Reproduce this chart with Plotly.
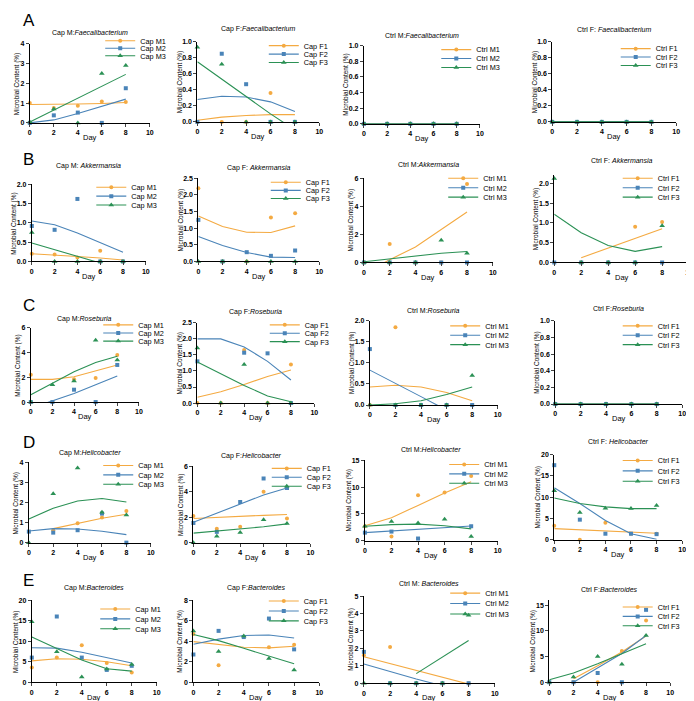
import plotly.graph_objects as go

W, H = 694, 701
DAYS = [0, 2, 4, 6, 8]
GROUPS = ["Cap M", "Cap F", "Ctrl M", "Ctrl F"]
ROW_LETTERS = ["A", "B", "C", "D", "E"]
TITLES = [
    "Cap M:<i>Faecalibacterium</i>", "Cap F:<i>Faecalibacterium</i>", "Ctrl M:<i>Faecalibacterium</i>", "Ctrl F: <i>Faecalibacterium</i>",
    "Cap M: <i>Akkermansia</i>", "Cap F: <i>Akkermansia</i>", "Ctrl M:<i>Akkermansia</i>", "Ctrl F: <i>Akkermansia</i>",
    "Cap M:<i>Roseburia</i>", "Cap F:<i>Roseburia</i>", "Ctrl M:<i>Roseburia</i>", "Ctrl F:<i>Roseburia</i>",
    "Cap M:<i>Helicobacter</i>", "Cap F:<i>Helicobacter</i>", "Ctrl M:<i>Helicobacter</i>", "Ctrl F: <i>Helicobacter</i>",
    "Cap M:<i>Bacteroides</i>", "Cap F:<i>Bacteroides</i>", "Ctrl M: <i>Bacteroides</i>", "Ctrl F:<i>Bacteroides</i>",
]
X_LABEL = "Day"
Y_LABEL = "Microbial Content (%)"

# ---------------- data: points (3 series) and fitted curves (3 series) per panel
A1_pts = [[1.0, 0.75, 0.87, 1.08, 1.05], [0, 0.38, 0.52, 0, 1.75], [0.05, 0.7, 0, 2.5, 2.9]]
A1_fit = [[0.93, 0.93, 0.95, 0.98, 1.03], [0.0, 0.15, 0.47, 0.85, 1.2], [0.05, 0.65, 1.25, 1.85, 2.45]]
A2_pts = [[0, 0, 0, 0.36, 0], [0, 0.85, 0.47, 0, 0], [0.93, 0.72, 0, 0, 0]]
A2_fit = [[0.02, 0.06, 0.08, 0.09, 0.09], [0.28, 0.32, 0.31, 0.25, 0.13], [0.75, 0.53, 0.32, 0.1, -0.1]]
A3_pts = [[0, 0, 0, 0, 0], [0, 0, 0, 0, 0], [0, 0, 0, 0, 0]]
A3_fit = [[0, 0, 0, 0, 0], [0, 0, 0, 0, 0], [0, 0, 0, 0, 0]]
A4_pts = [[0, 0, 0, 0, 0], [0, 0, 0, 0, 0], [0, 0, 0, 0, 0]]
A4_fit = [[0, 0, 0, 0, 0], [0, 0, 0, 0, 0], [0, 0, 0, 0, 0]]

B1_pts = [[0.2, 0.18, 0.1, 0.28, 0], [0.92, 0.82, 1.62, 0, 0], [0.75, 0, 0, 0, 0]]
B1_fit = [[0.2, 0.17, 0.13, 0.09, 0.04], [1.05, 0.95, 0.74, 0.5, 0.24], [0.48, 0.3, 0.12, -0.04, -0.2]]
B2_pts = [[2.2, 0, 0, 1.32, 1.45], [1.25, 0, 0.28, 0.17, 0.33], [0, 0, 0, 0, 0]]
B2_fit = [[1.37, 1.05, 0.88, 0.87, 1.07], [0.75, 0.48, 0.27, 0.13, 0.12], [0, 0, 0, 0, 0]]
B3_pts = [[0, 1.32, 0, 0, 5.6], [0, 0, 0, 0, 0], [0, 0, 0, 1.58, 0.65]]
B3_fit = [[-0.8, 0.2, 1.1, 2.35, 3.6], [0, 0, 0, 0, 0], [0.05, 0.25, 0.48, 0.66, 0.78]]
B4_pts = [[None, 0, 0, 0.9, 1.02], [0, 0, 0, 0, 0], [2.12, 0, 0, 0, 0.93]]
B4_fit = [[None, 0.12, 0.36, 0.6, 0.85], [0, 0, 0, 0, 0], [1.22, 0.75, 0.43, 0.28, 0.4]]

C1_pts = [[2.2, 0, 1.85, 1.95, 3.8], [0, 0, 1.0, 0, 3.0], [0, 1.4, 1.7, 5.0, 3.4]]
C1_fit = [[1.83, 1.83, 2.05, 2.5, 3.0], [-0.5, 0.1, 0.7, 1.4, 2.1], [0.6, 1.5, 2.45, 3.2, 3.7]]
C2_pts = [[0, 0, 1.65, 0, 1.2], [1.3, None, 1.57, 1.55, 0], [1.72, 0, 1.2, 0, 0]]
C2_fit = [[0.18, 0.35, 0.58, 0.83, 1.03], [2.0, 2.0, 1.75, 1.3, 0.72], [1.28, 0.92, 0.55, 0.22, 0.04]]
C3_pts = [[0, 1.85, 0, 0, 0], [1.33, 0, 0, 0, 0], [0, 0, 0, 0, 0.7]]
C3_fit = [[0.43, 0.47, 0.43, 0.3, 0.1], [0.83, 0.52, 0.2, -0.12, -0.45], [0.0, 0.03, 0.1, 0.25, 0.43]]
C4_pts = [[0, 0, 0, 0, 0], [0, 0, 0, 0, 0], [0, 0, 0, 0, 0]]
C4_fit = [[0, 0, 0, 0, 0], [0, 0, 0, 0, 0], [0, 0, 0, 0, 0]]

D1_pts = [[None, 0.62, 0.97, 1.25, 1.58], [0.55, 0.5, 0.62, 1.45, 0], [0, 2.44, 3.72, 1.52, 1.38]]
D1_fit = [[None, 0.7, 0.95, 1.22, 1.42], [0.58, 0.7, 0.68, 0.57, 0.4], [1.18, 1.72, 2.08, 2.2, 2.03]]
D2_pts = [[2.1, 1.1, 1.25, 4.0, 1.9], [1.55, 0.85, 3.2, 5.05, 4.3], [0, 0.5, 0.8, 1.8, 1.5]]
D2_fit = [[1.9, 2.0, 2.07, 2.15, 2.22], [1.6, 2.3, 3.05, 3.75, 4.3], [0.75, 0.9, 1.05, 1.25, 1.48]]
D3_pts = [[2.7, 0.8, 8.5, 9.0, 12.1], [1.5, 1.7, 0.4, None, 2.7], [2.7, 3.6, 3.3, 4.0, 0.8]]
D3_fit = [[2.8, 4.3, 6.6, 8.9, 11.0], [1.5, 1.8, 2.1, 2.45, 2.75], [2.7, 3.0, 3.1, 2.8, 2.2]]
D4_pts = [[3.3, 0, 4.0, 1.4, 1.4], [17.5, 4.7, 1.4, 1.4, 1.3], [11.5, 6.4, 7.4, 7.3, 8.0]]
D4_fit = [[2.6, 2.3, 2.0, 1.7, 1.5], [12.2, 8.5, 4.5, 1.4, 0.1], [9.8, 8.5, 7.7, 7.3, 7.3]]

E1_pts = [[3.6, 6.0, 9.0, 4.7, 2.4], [6.0, 16.0, 6.0, 3.0, 4.0], [14.7, 7.4, 1.3, 3.2, 4.3]]
E1_fit = [[5.2, 5.7, 5.6, 5.0, 4.0], [8.4, 8.3, 7.3, 6.0, 4.7], [11.0, 8.2, 5.4, 3.3, 2.7]]
E2_pts = [[4.7, 1.65, 4.4, 3.4, 3.65], [2.7, 5.0, 4.4, 6.2, 3.2], [5.0, 3.0, 4.5, 2.3, 1.2]]
E2_fit = [[3.95, 3.65, 3.4, 3.35, 3.5], [3.7, 4.2, 4.55, 4.6, 4.3], [4.65, 4.05, 3.3, 2.55, 1.8]]
E3_pts = [[1.6, 2.08, 0, 0, 0], [1.8, 0, 0, 0, 0], [0, 0, 0, 0, 3.9]]
E3_fit = [[1.52, 1.12, 0.72, 0.32, -0.05], [1.1, 0.66, 0.24, -0.15, -0.55], [None, None, 0.55, 1.5, 2.45]]
E4_pts = [[None, 0, 0, 6.1, 12.0], [0, 0, 1.8, 0, 14.1], [0, 1.0, 5.0, 3.5, 9.1]]
E4_fit = [[None, 0.7, 3.2, 5.9, 9.0], [None, 0.0, 2.8, 5.6, 9.1], [0.5, 1.8, 3.6, 5.6, 7.5]]

PANEL_PTS = [A1_pts, A2_pts, A3_pts, A4_pts, B1_pts, B2_pts, B3_pts, B4_pts,
             C1_pts, C2_pts, C3_pts, C4_pts, D1_pts, D2_pts, D3_pts, D4_pts,
             E1_pts, E2_pts, E3_pts, E4_pts]
PANEL_FIT = [A1_fit, A2_fit, A3_fit, A4_fit, B1_fit, B2_fit, B3_fit, B4_fit,
             C1_fit, C2_fit, C3_fit, C4_fit, D1_fit, D2_fit, D3_fit, D4_fit,
             E1_fit, E2_fit, E3_fit, E4_fit]

# y axis: (range max, tick step, format)
Y_AXES = [
    (4, 1, "d"), (1, 0.2, ".1f"), (1, 0.2, ".1f"), (1, 0.2, ".1f"),
    (2, 0.5, ".1f"), (2.5, 0.5, ".1f"), (6, 2, "d"), (2.2, 0.5, ".1f"),
    (6, 2, "d"), (2.5, 0.5, ".1f"), (2, 0.5, ".1f"), (1, 0.2, ".1f"),
    (4, 1, "d"), (6, 2, "d"), (15, 5, "d"), (20, 5, "d"),
    (20, 5, "d"), (8, 2, "d"), (5, 1, "d"), (16, 5, "d"),
]

# ---------------- layout geometry (pixels): left, right, top, bottom of each plot area
RECTS = [
    (20, 141, 32, 112), (189, 312, 30, 111), (357, 474, 34, 113), (547, 672, 30, 111),
    (22, 137, 174, 252), (190, 312, 168, 252), (357, 487, 168, 253), (549, 685, 165, 253),
    (21, 130, 319, 394), (189, 307, 314, 395), (363, 492, 312, 397), (550, 678, 312, 396),
    (19, 142, 455, 536), (185, 303, 459, 536), (358, 492, 453, 534), (549, 678, 447, 533),
    (22, 148, 594, 677), (185, 312, 594, 677), (357, 489, 590, 678), (544, 666, 594, 677),
]
TITLE_Y = [21, 17, 24, 18, 156, 158, 154, 150, 310, 303, 302, 299, 445, 448, 442, 434, 582, 582, 577, 583]
# legend: x of text start, y of first row, row step
LEGENDS = [
    (137, 29, 7.6), (302, 34, 8.5), (476, 38, 9), (657, 37, 8.5),
    (128, 177, 9), (304, 172, 8.2), (483, 168, 9.5), (659, 168, 9.5),
    (135, 316, 8.2), (303, 316, 8.5), (485, 317, 9.5), (659, 317, 9.5),
    (135, 458, 9.5), (305, 461, 9), (484, 457, 9.5), (659, 453, 10.5),
    (132, 603, 10), (302, 595, 10), (485, 587, 10.5), (659, 601, 9.5),
]
LETTER_Y = [9, 149, 296, 435, 574]

COLORS = ["#F4AA42", "#4A84B8", "#2B9155"]
SYMBOLS = ["circle", "square", "triangle-up"]
MSIZE = [4, 4, 5]
FONT = "Liberation Sans, Arial, sans-serif"

fig = go.Figure()
annotations = []
layout = dict(width=W, height=H, margin=dict(l=0, r=0, t=0, b=0),
              paper_bgcolor="white", plot_bgcolor="white",
              font=dict(family=FONT, color="black"))

LEG_DX = 46

for k in range(20):
    r, c = divmod(k, 4)
    L, R, T, B = RECTS[k]
    ymax, dt, fmt = Y_AXES[k]
    sfx = "" if k == 0 else str(k + 1)
    tickfont = dict(size=7, family=FONT, color="black", weight="bold")
    xa = dict(domain=[L / W, R / W], range=[0, 10], anchor="y" + sfx,
              tickvals=[0, 2, 4, 6, 8, 10], ticks="outside", ticklen=3, tickwidth=1,
              showline=True, linecolor="black", linewidth=1, showgrid=False, zeroline=False,
              tickfont=tickfont, fixedrange=True)
    ya = dict(domain=[1 - B / H, 1 - T / H], range=[0, ymax], anchor="x" + sfx,
              tick0=0, dtick=dt, tickformat=fmt, ticks="outside", ticklen=3, tickwidth=1,
              showline=True, linecolor="black", linewidth=1, showgrid=False, zeroline=False,
              tickfont=tickfont, fixedrange=True)
    layout["xaxis" + sfx] = xa
    layout["yaxis" + sfx] = ya

    grp = GROUPS[c]
    tx, ty0, tstep = LEGENDS[k]
    for j in range(3):
        pts = PANEL_PTS[k][j]
        fit = PANEL_FIT[k][j]
        name = f"{grp}{j + 1}"
        valid_fit = [v for v in fit if v is not None]
        fig.add_trace(go.Scatter(
            x=DAYS, y=fit, mode="lines", line=dict(color=COLORS[j], width=1.1),
            showlegend=False, hoverinfo="skip", xaxis="x" + sfx, yaxis="y" + sfx,
            cliponaxis=min(valid_fit) < 0))
        fig.add_trace(go.Scatter(
            x=DAYS, y=pts, mode="markers",
            marker=dict(color=COLORS[j], symbol=SYMBOLS[j], size=MSIZE[j], line=dict(width=0)),
            showlegend=False, cliponaxis=False, xaxis="x" + sfx, yaxis="y" + sfx, name=name))
        n = 3 * k + j + 1
        lname = "legend" if n == 1 else f"legend{n}"
        fig.add_trace(go.Scatter(
            x=[None], y=[None], mode="lines+markers", name=name,
            line=dict(color=COLORS[j], width=1.1),
            marker=dict(color=COLORS[j], symbol=SYMBOLS[j], size=MSIZE[j], line=dict(width=0)),
            showlegend=True, legend=lname, xaxis="x" + sfx, yaxis="y" + sfx))
        layout[lname] = dict(x=(tx - LEG_DX) / W, y=1 - (ty0 + j * tstep) / H,
                             xanchor="left", yanchor="middle", bgcolor="rgba(0,0,0,0)",
                             borderwidth=0, itemwidth=30, tracegroupgap=0,
                             font=dict(size=7.3, family=FONT, color="black"))

    cx = (L + R) / 2 / W
    annotations.append(dict(text=TITLES[k], x=cx, y=1 - TITLE_Y[k] / H, xref="paper", yref="paper",
                            xanchor="center", yanchor="middle", showarrow=False,
                            font=dict(size=7, family=FONT, color="black")))
    annotations.append(dict(text=X_LABEL, x=cx, y=1 - min(B + 15, 692) / H, xref="paper", yref="paper",
                            xanchor="center", yanchor="middle", showarrow=False,
                            font=dict(size=7.5, family=FONT, color="black")))
    yoff = 18 if fmt != "d" else (16 if ymax >= 10 else 13)
    annotations.append(dict(text=Y_LABEL, x=(L - yoff) / W, y=1 - (T + B) / 2 / H, xref="paper",
                            yref="paper", xanchor="center", yanchor="middle", showarrow=False,
                            textangle=-90, font=dict(size=6.5, family=FONT, color="black")))

for r in range(5):
    annotations.append(dict(text=ROW_LETTERS[r], x=19 / W, y=1 - LETTER_Y[r] / H, xref="paper",
                            yref="paper", xanchor="center", yanchor="middle", showarrow=False,
                            font=dict(size=17, family=FONT, color="black")))

layout["annotations"] = annotations
fig.update_layout(**layout)
fig.write_html("out.html")
